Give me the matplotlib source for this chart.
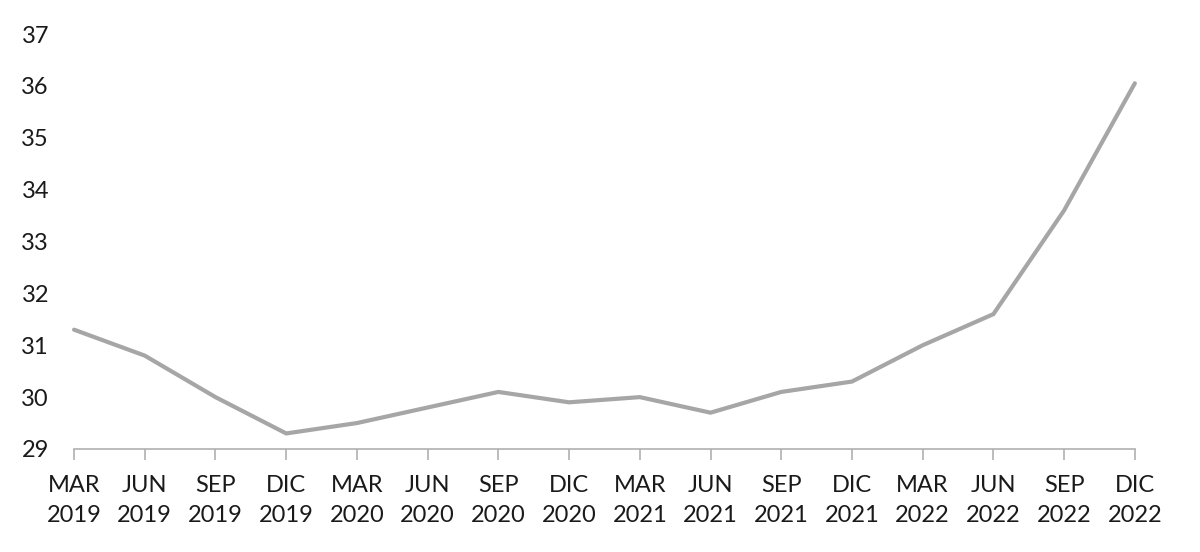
import numpy as np
import matplotlib
matplotlib.use('Agg')
import matplotlib.pyplot as plt

# quarterly values
quarters = ['MAR\n2019', 'JUN\n2019', 'SEP\n2019', 'DIC\n2019',
            'MAR\n2020', 'JUN\n2020', 'SEP\n2020', 'DIC\n2020',
            'MAR\n2021', 'JUN\n2021', 'SEP\n2021', 'DIC\n2021',
            'MAR\n2022', 'JUN\n2022', 'SEP\n2022', 'DIC\n2022']
values = [31.3, 30.8, 30.0, 29.3,
          29.5, 29.8, 30.1, 29.9,
          30.0, 29.7, 30.1, 30.3,
          31.0, 31.6, 33.6, 36.05]
y_ticks = [29, 30, 31, 32, 33, 34, 35, 36, 37]

plt.rcParams['font.family'] = ['Lato', 'DejaVu Sans']

fig = plt.figure(figsize=(12, 5.52), dpi=100)
ax = fig.add_axes([0.0617, 0.1866, 0.884, 0.7518])

x = np.arange(len(quarters))
ax.plot(x, values, color='#a6a6a6', lw=3, solid_capstyle='round', solid_joinstyle='miter')

ax.set_xlim(0, len(quarters) - 1)
ax.set_ylim(29, 37)
ax.set_yticks(y_ticks)
ax.set_xticks(x)
ax.set_xticklabels(quarters, linespacing=1.5)

for s in ['top', 'right', 'left']:
    ax.spines[s].set_visible(False)
ax.spines['bottom'].set_color('#b0b0b0')
ax.spines['bottom'].set_linewidth(1.2)

ax.tick_params(axis='x', direction='out', length=8, width=1.2, color='#b0b0b0',
               labelsize=17, labelcolor='#1a1a1a', pad=11)
ax.tick_params(axis='y', length=0, labelsize=17, labelcolor='#1a1a1a', pad=18)
for line in ax.get_lines():
    line.set_clip_on(False)

fig.savefig('out.png', dpi=100)
